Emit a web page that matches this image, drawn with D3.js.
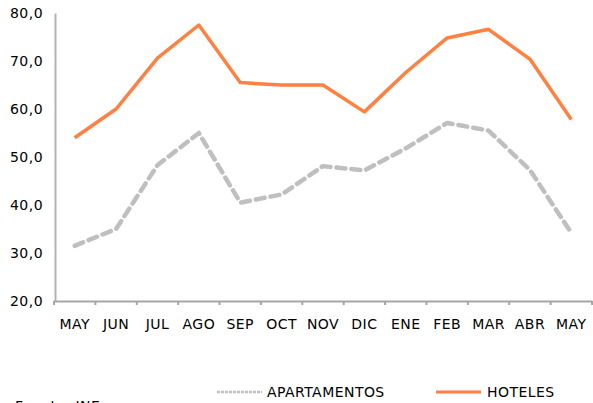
<!DOCTYPE html>
<html>
<head>
<meta charset="utf-8">
<script src="https://cdn.jsdelivr.net/npm/d3@7"></script>
<style>
body { margin: 0; background: #fff; }
svg { display: block; font-family: "DejaVu Sans", Verdana, sans-serif; letter-spacing: 0.45px; }
</style>
</head>
<body>
<script>
// categories and series
var months = ["MAY", "JUN", "JUL", "AGO", "SEP", "OCT", "NOV", "DIC", "ENE", "FEB", "MAR", "ABR", "MAY"];
var hoteles = [54.0, 60.0, 70.6, 77.5, 65.5, 65.0, 65.0, 59.4, 67.6, 74.8, 76.6, 70.4, 57.8];
var apartamentos = [31.5, 35.0, 48.3, 55.0, 40.5, 42.2, 48.1, 47.2, 51.8, 57.1, 55.5, 47.3, 34.2];
var yTicks = [20, 30, 40, 50, 60, 70, 80];

var width = 593, height = 403;
var plotLeft = 55, plotRight = 593, plotTop = 13, plotBottom = 301;

var svg = d3.select("body").append("svg")
    .attr("width", width)
    .attr("height", height);

var x = d3.scaleBand()
    .domain(d3.range(months.length))
    .range([plotLeft - 1, plotRight - 1]);

var y = d3.scaleLinear()
    .domain([20, 80])
    .range([plotBottom, plotTop]);

var fmt = function(v) { return d3.format(".1f")(v).replace(".", ","); };

// y axis
var yAxis = svg.append("g")
    .attr("transform", "translate(" + plotLeft + ",0)")
    .call(d3.axisLeft(y).tickValues(yTicks).tickSize(0).tickPadding(12).tickFormat(fmt));
yAxis.select(".domain").attr("stroke", "#b3b3b3").attr("stroke-width", 2);
yAxis.selectAll("text").attr("font-size", 14).attr("fill", "#000")
    .attr("font-family", "DejaVu Sans, Verdana, sans-serif");

// x axis
var xAxis = svg.append("g")
    .attr("transform", "translate(0," + plotBottom + ")")
    .call(d3.axisBottom(x).tickFormat(function(i) { return months[i]; }).tickSize(0).tickPadding(18));
xAxis.select(".domain").attr("stroke", "#a6a6a6").attr("stroke-width", 2);
xAxis.selectAll("text").attr("font-size", 14).attr("fill", "#000")
    .attr("font-family", "DejaVu Sans, Verdana, sans-serif");

// tick marks at the band edges
xAxis.selectAll(".edge")
    .data(d3.range(months.length + 1))
    .enter().append("line")
    .attr("class", "edge")
    .attr("stroke", "#a6a6a6")
    .attr("stroke-width", 2)
    .attr("x1", function(i) { return plotLeft - 1 + i * x.step(); })
    .attr("x2", function(i) { return plotLeft - 1 + i * x.step(); })
    .attr("y1", 0)
    .attr("y2", 4);

var line = d3.line()
    .x(function(d, i) { return x(i) + x.bandwidth() / 2; })
    .y(function(d) { return y(d); });

svg.append("path")
    .datum(apartamentos)
    .attr("fill", "none")
    .attr("stroke", "#bfbfbf")
    .attr("stroke-width", 4.5)
    .attr("stroke-dasharray", "9,6")
    .attr("stroke-linecap", "round")
    .attr("stroke-linejoin", "round")
    .attr("d", line);

svg.append("path")
    .datum(hoteles)
    .attr("fill", "none")
    .attr("stroke", "#ff8040")
    .attr("stroke-width", 3.5)
    .attr("stroke-linejoin", "round")
    .attr("d", line);

// legend
var legend = [
    {name: "APARTAMENTOS", color: "#bfbfbf", dash: "3,1", w: 2.5, x1: 217, x2: 262, tx: 267},
    {name: "HOTELES", color: "#ff8040", dash: null, w: 3, x1: 436, x2: 481, tx: 487}
];

var lg = svg.selectAll(".legend")
    .data(legend).enter()
    .append("g");

lg.append("line")
    .attr("x1", function(d) { return d.x1; })
    .attr("x2", function(d) { return d.x2; })
    .attr("y1", 392)
    .attr("y2", 392)
    .attr("stroke", function(d) { return d.color; })
    .attr("stroke-width", function(d) { return d.w; })
    .attr("stroke-dasharray", function(d) { return d.dash; });

lg.append("text")
    .attr("x", function(d) { return d.tx; })
    .attr("y", 397)
    .attr("font-size", 14)
    .text(function(d) { return d.name; });

svg.append("text")
    .attr("x", 15)
    .attr("y", 411)
    .attr("font-size", 14)
    .text("Fuente: INE");
</script>
</body>
</html>
